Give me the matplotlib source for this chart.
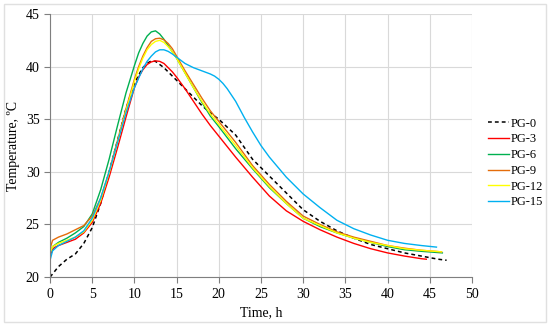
import matplotlib
matplotlib.use("Agg")
import matplotlib.pyplot as plt
from matplotlib.patches import Rectangle

plt.rcParams["font.family"] = ["Liberation Serif", "DejaVu Serif"]

# PG-0 (reference, dashed)
t_pg0 = [0, 0.5, 1, 2, 3, 4, 5, 6, 7, 8, 9, 10, 10.5, 11, 11.5, 12, 12.5, 13, 13.5, 14, 15, 16,
         17, 18, 19, 20, 22, 24, 26, 28, 30, 32, 34, 36, 38, 40, 42, 44, 46, 47]
y_pg0 = [20.0, 20.5, 21.0, 21.7, 22.2, 23.2, 24.7, 27.0, 30.0, 33.0, 36.0, 38.4, 39.2, 39.9, 40.3,
         40.55, 40.5, 40.2, 39.9, 39.5, 38.7, 37.9, 37.1, 36.3, 35.6, 35.0, 33.5, 31.2, 29.6, 28.0,
         26.4, 25.3, 24.4, 23.7, 23.1, 22.7, 22.3, 22.0, 21.7, 21.6]

t_pg3 = [0, 0.3, 0.5, 1, 2, 3, 4, 5, 6, 7, 8, 9, 10, 10.5, 11, 11.5, 12, 12.5, 13, 13.5, 14,
         14.5, 15, 16, 17, 18, 19, 20, 22, 24, 26, 28, 30, 32, 34, 36, 38, 40, 42, 44, 44.6]
y_pg3 = [22.0, 22.6, 22.8, 23.0, 23.3, 23.6, 24.2, 25.2, 27.0, 29.5, 32.3, 35.2, 38.0, 39.0, 39.7,
         40.2, 40.45, 40.55, 40.5, 40.3, 39.9, 39.5, 39.0, 37.9, 36.7, 35.5, 34.4, 33.4, 31.4,
         29.5, 27.7, 26.3, 25.3, 24.5, 23.8, 23.2, 22.7, 22.3, 22.0, 21.75, 21.7]

t_pg6 = [0, 0.3, 1, 2, 3, 4, 5, 6, 7, 8, 9, 10, 10.5, 11, 11.5, 12, 12.5, 13, 13.5, 14, 14.5,
         15, 16, 17, 18, 19, 20, 22, 24, 26, 28, 30, 32, 34, 36, 38, 40, 42, 44, 46.5]
y_pg6 = [22.3, 22.9, 23.3, 23.7, 24.2, 24.8, 26.0, 28.3, 31.2, 34.4, 37.5, 40.1, 41.3, 42.2, 42.9,
         43.3, 43.4, 43.1, 42.6, 42.0, 41.4, 40.8, 39.4, 38.0, 36.6, 35.3, 34.3, 32.2, 30.3, 28.5,
         27.0, 25.6, 24.8, 24.2, 23.7, 23.3, 22.9, 22.6, 22.45, 22.3]

t_pg9 = [0, 0.3, 1, 2, 3, 4, 5, 6, 7, 8, 9, 10, 10.5, 11, 11.5, 12, 12.5, 13, 13.5, 14, 14.5,
         15, 16, 17, 18, 19, 20, 22, 24, 26, 28, 30, 32, 34, 36, 38, 40, 42, 44, 46.4]
y_pg9 = [22.7, 23.5, 23.8, 24.1, 24.5, 24.9, 25.8, 27.5, 30.0, 33.0, 36.0, 38.8, 40.0, 41.0, 41.8,
         42.4, 42.65, 42.7, 42.55, 42.2, 41.7, 41.0, 39.6, 38.3, 37.0, 35.8, 34.8, 32.8, 30.6,
         28.8, 27.2, 25.8, 25.0, 24.3, 23.8, 23.4, 23.0, 22.75, 22.55, 22.4]

t_pg12 = [0, 0.3, 1, 2, 3, 4, 5, 6, 7, 8, 9, 10, 10.5, 11, 11.5, 12, 12.5, 13, 13.5, 14, 14.5,
          15, 16, 17, 18, 19, 20, 22, 24, 26, 28, 30, 32, 34, 36, 38, 40, 42, 44, 46.4]
y_pg12 = [22.3, 22.9, 23.2, 23.5, 23.8, 24.3, 25.4, 27.3, 29.9, 32.8, 35.8, 38.6, 39.8, 40.8,
          41.6, 42.1, 42.4, 42.5, 42.3, 41.9, 41.4, 40.8, 39.4, 38.0, 36.7, 35.5, 34.5, 32.5,
          30.4, 28.6, 27.0, 25.6, 24.9, 24.2, 23.7, 23.3, 23.0, 22.7, 22.55, 22.4]

t_pg15 = [0, 0.3, 1, 2, 3, 4, 5, 6, 7, 8, 9, 10, 11, 11.5, 12, 12.5, 13, 13.5, 14, 14.5, 15, 16,
          17, 18, 19, 19.5, 20, 20.5, 21, 21.5, 22, 23, 24, 25, 26, 28, 30, 32, 34, 36, 38, 40,
          42, 44, 45.8]
y_pg15 = [21.6, 22.5, 23.0, 23.4, 23.8, 24.4, 25.6, 27.5, 30.0, 32.8, 35.6, 38.0, 39.8, 40.5,
          41.0, 41.4, 41.6, 41.6, 41.45, 41.2, 40.9, 40.3, 39.9, 39.6, 39.3, 39.1, 38.8, 38.4,
          37.9, 37.3, 36.7, 35.2, 33.8, 32.5, 31.4, 29.5, 27.9, 26.6, 25.4, 24.6, 24.0, 23.5,
          23.2, 23.0, 22.85]

fig = plt.figure(figsize=(5.5, 3.26), dpi=100)
ax = fig.add_axes([0.091, 0.150, 0.767, 0.807])

ax.plot(t_pg0, y_pg0, color="black", lw=1.1, linestyle=(0, (2.5, 2)), label="PG-0")
ax.plot(t_pg3, y_pg3, color="#FF0000", lw=1.0, label="PG-3")
ax.plot(t_pg6, y_pg6, color="#00B050", lw=1.0, label="PG-6")
ax.plot(t_pg9, y_pg9, color="#E46C0A", lw=1.0, label="PG-9")
ax.plot(t_pg12, y_pg12, color="#FFFF00", lw=1.0, label="PG-12")
ax.plot(t_pg15, y_pg15, color="#00B0F0", lw=1.0, label="PG-15")

ax.set_xlim(0, 50)
ax.set_ylim(20, 45)
ax.set_xticks(range(0, 51, 5))
ax.set_yticks(range(20, 46, 5))
ax.grid(True, color="#D9D9D9", lw=0.8)
ax.set_axisbelow(True)
for s in ["top", "right"]:
    ax.spines[s].set_visible(False)
for s in ["left", "bottom"]:
    ax.spines[s].set_color("#7F7F7F")
ax.tick_params(direction="out", length=4, color="#7F7F7F", labelsize=10)
ax.set_xlabel("Time, h", fontsize=10, labelpad=4)
ax.set_ylabel("Temperature, ºC", fontsize=10, labelpad=4)

fig.legend(loc="center left", bbox_to_anchor=(0.878, 0.5), frameon=False, fontsize=9,
           handlelength=1.7, handletextpad=0.15, labelspacing=0.3, borderaxespad=0)

fig.patches.append(Rectangle((0.008, 0.012), 0.984, 0.976, transform=fig.transFigure,
                             fill=False, edgecolor="#E0E0E0", lw=1))

fig.savefig("out.png", dpi=100)
